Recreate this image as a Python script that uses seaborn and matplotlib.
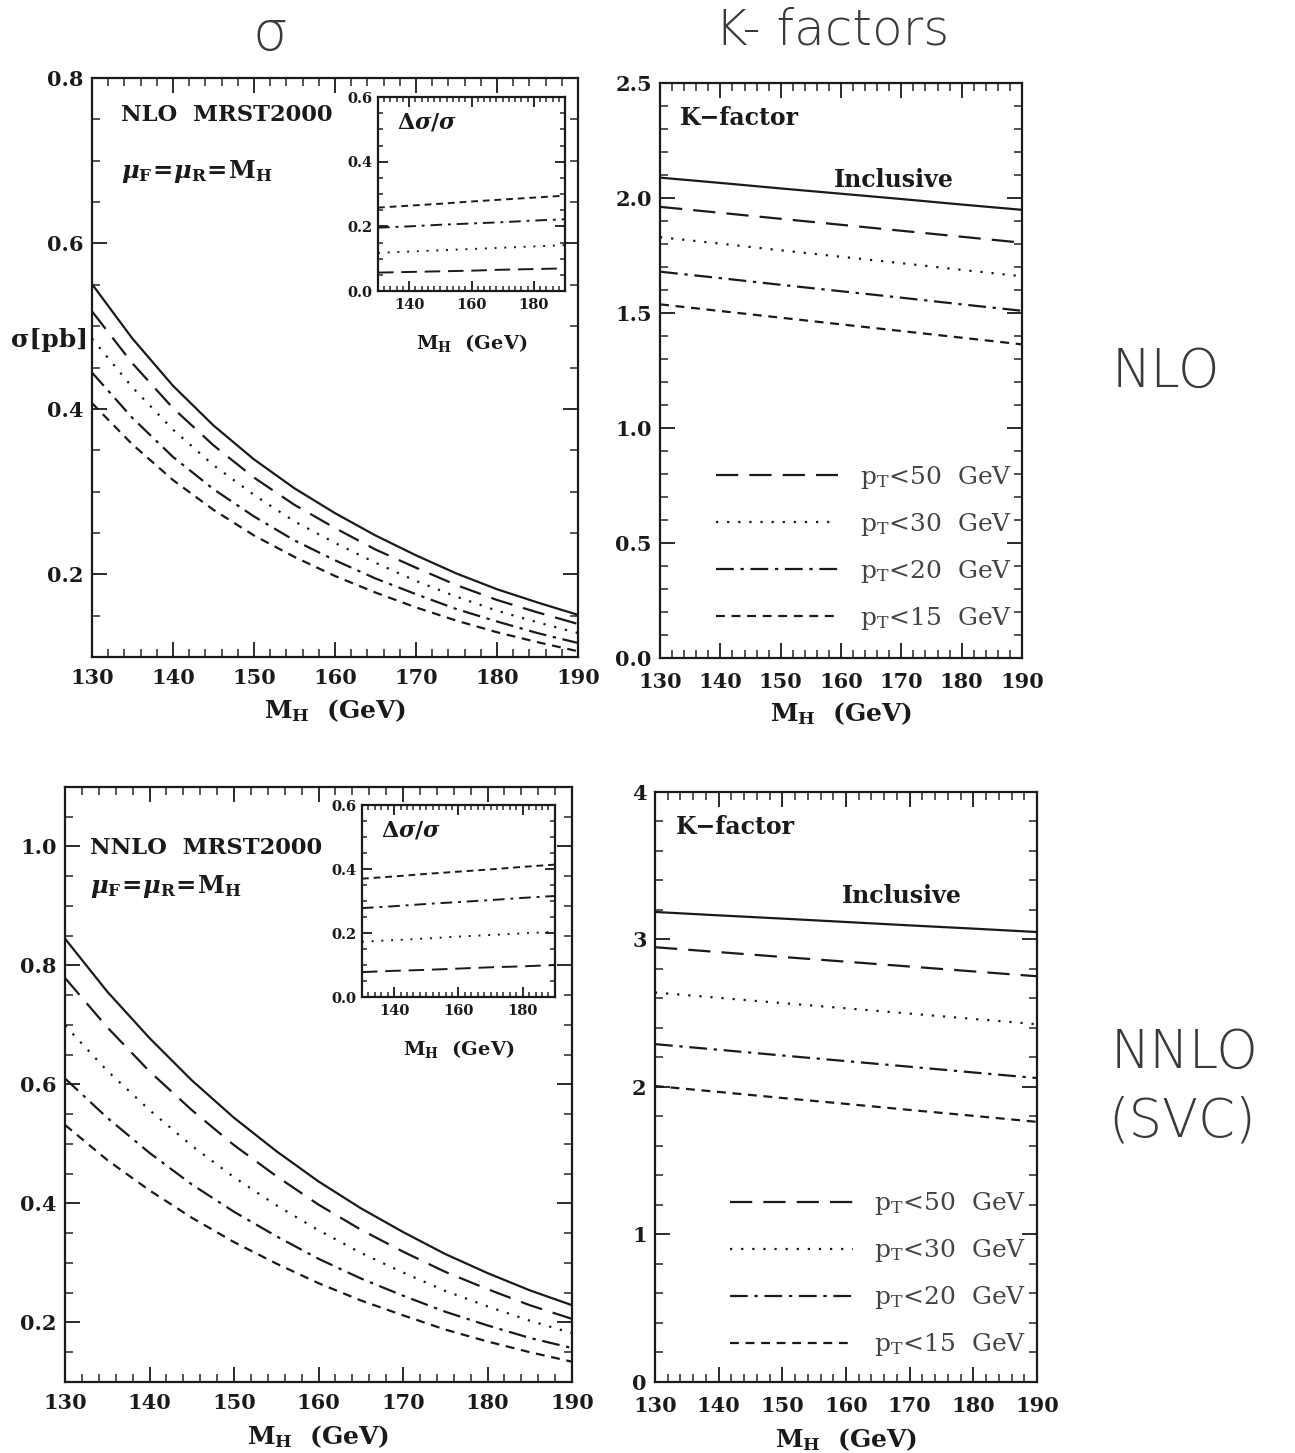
import numpy as np
import matplotlib
matplotlib.use("Agg")
import matplotlib.pyplot as plt
import seaborn as sns
from matplotlib.ticker import MultipleLocator, FixedLocator, FormatStrFormatter

# Higgs mass grid
mh = [130, 135, 140, 145, 150, 155, 160, 165, 170, 175, 180, 185, 190]
mh_k = [130, 140, 150, 160, 170, 180, 190]

# NLO cross sections [pb]
nlo_incl = [0.551, 0.485, 0.428, 0.380, 0.339, 0.304, 0.274, 0.247, 0.223, 0.201, 0.182, 0.166, 0.151]
nlo_pt50 = [0.518, 0.455, 0.401, 0.356, 0.317, 0.284, 0.256, 0.230, 0.208, 0.187, 0.169, 0.154, 0.140]
nlo_pt30 = [0.485, 0.426, 0.375, 0.332, 0.296, 0.264, 0.238, 0.214, 0.192, 0.173, 0.156, 0.142, 0.129]
nlo_pt20 = [0.444, 0.389, 0.342, 0.303, 0.270, 0.241, 0.217, 0.195, 0.176, 0.158, 0.143, 0.129, 0.117]
nlo_pt15 = [0.407, 0.357, 0.314, 0.278, 0.247, 0.221, 0.198, 0.178, 0.160, 0.144, 0.130, 0.118, 0.107]

# NNLO cross sections [pb]
nnlo_incl = [0.845, 0.756, 0.678, 0.607, 0.544, 0.488, 0.437, 0.392, 0.352, 0.315, 0.283, 0.254, 0.229]
nnlo_pt50 = [0.779, 0.696, 0.622, 0.557, 0.498, 0.446, 0.398, 0.356, 0.319, 0.285, 0.256, 0.229, 0.206]
nnlo_pt30 = [0.699, 0.623, 0.557, 0.497, 0.444, 0.397, 0.355, 0.317, 0.284, 0.253, 0.227, 0.203, 0.182]
nnlo_pt20 = [0.610, 0.544, 0.485, 0.432, 0.386, 0.345, 0.307, 0.274, 0.245, 0.218, 0.195, 0.174, 0.157]
nnlo_pt15 = [0.532, 0.473, 0.422, 0.376, 0.335, 0.299, 0.266, 0.237, 0.212, 0.188, 0.168, 0.150, 0.134]

# relative loss delta sigma / sigma (insets)
nlo_d50 = [0.057, 0.059, 0.061, 0.063, 0.066, 0.068, 0.070]
nlo_d30 = [0.118, 0.122, 0.126, 0.130, 0.134, 0.138, 0.142]
nlo_d20 = [0.196, 0.200, 0.205, 0.209, 0.213, 0.218, 0.222]
nlo_d15 = [0.258, 0.264, 0.270, 0.277, 0.283, 0.289, 0.295]
nnlo_d50 = [0.078, 0.082, 0.085, 0.089, 0.093, 0.096, 0.100]
nnlo_d30 = [0.173, 0.178, 0.183, 0.189, 0.194, 0.199, 0.204]
nnlo_d20 = [0.278, 0.284, 0.291, 0.297, 0.303, 0.310, 0.316]
nnlo_d15 = [0.370, 0.377, 0.385, 0.392, 0.399, 0.407, 0.414]

# K-factors
k_nlo_incl = [2.089, 2.066, 2.042, 2.019, 1.996, 1.972, 1.949]
k_nlo_pt50 = [1.962, 1.936, 1.910, 1.884, 1.858, 1.832, 1.806]
k_nlo_pt30 = [1.830, 1.802, 1.773, 1.745, 1.717, 1.688, 1.660]
k_nlo_pt20 = [1.680, 1.652, 1.623, 1.595, 1.567, 1.538, 1.510]
k_nlo_pt15 = [1.538, 1.509, 1.480, 1.451, 1.422, 1.393, 1.364]
k_nnlo_incl = [3.186, 3.163, 3.141, 3.118, 3.095, 3.073, 3.050]
k_nnlo_pt50 = [2.947, 2.914, 2.881, 2.849, 2.816, 2.783, 2.750]
k_nnlo_pt30 = [2.640, 2.604, 2.568, 2.533, 2.497, 2.461, 2.425]
k_nnlo_pt20 = [2.290, 2.252, 2.213, 2.175, 2.137, 2.098, 2.060]
k_nnlo_pt15 = [2.006, 1.966, 1.925, 1.885, 1.844, 1.804, 1.763]

cut_labels = [r"$\mathregular{p_T}$<50  GeV", r"$\mathregular{p_T}$<30  GeV",
              r"$\mathregular{p_T}$<20  GeV", r"$\mathregular{p_T}$<15  GeV"]

INK = "#1a1a1a"
STYLES = ["-", (0, (10, 5)), (0, (1, 4)), (0, (8, 3, 1.5, 3)), (0, (4, 3))]
INSET_STYLES = [(0, (8, 4)), (0, (1, 4)), (0, (6, 3, 1.5, 3)), (0, (3.5, 2.5))]

sns.set_style("ticks")
plt.rcParams["font.family"] = ["DejaVu Serif"]
plt.rcParams["mathtext.fontset"] = "custom"
plt.rcParams["mathtext.rm"] = "DejaVu Serif:bold"
plt.rcParams["mathtext.it"] = "DejaVu Serif:italic:bold"
plt.rcParams["mathtext.bf"] = "DejaVu Serif:bold"


def style_axes(ax, ymaj, ymin, xmaj, xmin, fs, fmt, big=True, xpad=6):
    ax.yaxis.set_major_locator(MultipleLocator(ymaj))
    ax.yaxis.set_minor_locator(MultipleLocator(ymin))
    if xmaj is None:
        ax.xaxis.set_major_locator(FixedLocator([140, 160, 180]))
    else:
        ax.xaxis.set_major_locator(MultipleLocator(xmaj))
    ax.xaxis.set_minor_locator(MultipleLocator(xmin))
    ax.yaxis.set_major_formatter(FormatStrFormatter(fmt))
    L = 11 if big else 7
    ax.tick_params(which="major", direction="in", top=True, right=True, length=L, width=1.3,
                   labelsize=fs, colors=INK, pad=6 if big else 4)
    ax.tick_params(axis="x", which="major", pad=xpad if big else 5)
    ax.tick_params(which="minor", direction="in", top=True, right=True, length=L / 2, width=1.1)
    for lab in ax.get_xticklabels() + ax.get_yticklabels():
        lab.set_fontweight("bold")
    for s in ax.spines.values():
        s.set_linewidth(1.6)
        s.set_color(INK)
    ax.set_xlabel("")
    ax.set_ylabel("")


def draw_lines(ax, x, series, styles, lw):
    for y, ls in zip(series, styles):
        sns.lineplot(x=np.array(x), y=np.array(y), ax=ax, color=INK, linestyle=ls, linewidth=lw)


fig = plt.figure(figsize=(12.95, 14.53), dpi=100)

# ---------------- sigma panels ----------------
def sigma_panel(rect, inset_rect, series, dseries, ylim, title, show_ylabel):
    ax = fig.add_axes(rect)
    draw_lines(ax, mh, series, STYLES, 1.6)
    ax.set_xlim(130, 190)
    ax.set_ylim(*ylim)
    style_axes(ax, 0.2, 0.05, 10, 2, 15, "%.1f", xpad=8)
    ax.text(0.06 if show_ylabel else 0.05, 0.936 if show_ylabel else 0.897, title,
            transform=ax.transAxes, fontsize=16.3, fontweight="bold", va="center", color=INK)
    ax.text(0.06 if show_ylabel else 0.05, 0.838 if show_ylabel else 0.832,
            r"$\mu_{\mathregular{F}}\!=\!\mu_{\mathregular{R}}\!=\!\mathregular{M_H}$",
            transform=ax.transAxes, fontsize=17.5, fontweight="bold", va="center", color=INK)
    ax.text(0.5, -0.092, r"$\mathregular{M_H}$  (GeV)", transform=ax.transAxes,
            fontsize=18, fontweight="bold", ha="center", va="center", color=INK)
    if show_ylabel:
        ax.text(-0.087, 0.547, "σ[pb]", transform=ax.transAxes, fontsize=18,
                fontweight="bold", ha="center", va="center", color=INK)

    ins = fig.add_axes(inset_rect)
    draw_lines(ins, mh_k, dseries, INSET_STYLES, 1.4)
    ins.set_xlim(130, 190)
    ins.set_ylim(0, 0.6)
    style_axes(ins, 0.2, 0.05, None, 2, 10.5, "%.1f", big=False)
    ins.text(0.1, 0.87, r"$\Delta\sigma/\sigma$", transform=ins.transAxes, fontsize=16,
             va="center", color=INK)
    ins.text(0.5, -0.27, r"$\mathregular{M_H}$  (GeV)", transform=ins.transAxes,
             fontsize=14, fontweight="bold", ha="center", va="center", color=INK)


sigma_panel([0.0710, 0.5478, 0.3753, 0.3985], [0.2919, 0.7997, 0.1444, 0.1335],
            [nlo_incl, nlo_pt50, nlo_pt30, nlo_pt20, nlo_pt15],
            [nlo_d50, nlo_d30, nlo_d20, nlo_d15], (0.1, 0.8), "NLO  MRST2000", True)
sigma_panel([0.0502, 0.0489, 0.3915, 0.4095], [0.2795, 0.3138, 0.1490, 0.1321],
            [nnlo_incl, nnlo_pt50, nnlo_pt30, nnlo_pt20, nnlo_pt15],
            [nnlo_d50, nnlo_d30, nnlo_d20, nnlo_d15], (0.1, 1.1), "NNLO  MRST2000", False)


# ---------------- K-factor panels ----------------
def k_panel(rect, series, ylim, ymaj, ymin, fmt, incl_y, leg_y):
    ax = fig.add_axes(rect)
    draw_lines(ax, mh_k, series, STYLES, 1.6)
    ax.set_xlim(130, 190)
    ax.set_ylim(*ylim)
    style_axes(ax, ymaj, ymin, 10, 2, 15, fmt, xpad=10)
    ax.text(0.055, 0.94, "K−factor", transform=ax.transAxes, fontsize=17,
            fontweight="bold", va="center", color=INK)
    ax.text(0.645, incl_y, "Inclusive", transform=ax.transAxes, fontsize=17,
            fontweight="bold", ha="center", va="center", color=INK)
    ax.text(0.5, -0.097, r"$\mathregular{M_H}$  (GeV)", transform=ax.transAxes,
            fontsize=18, fontweight="bold", ha="center", va="center", color=INK)
    leg = ax.legend(handles=ax.lines[1:5], labels=cut_labels, loc="lower right",
                    bbox_to_anchor=(0.972, leg_y), frameon=False, fontsize=18,
                    handlelength=4.9, handletextpad=0.85, labelspacing=0.8,
                    borderpad=0, borderaxespad=0)
    for t in leg.get_texts():
        t.set_color("#444444")


k_panel([0.5097, 0.5471, 0.2795, 0.3957],
        [k_nlo_incl, k_nlo_pt50, k_nlo_pt30, k_nlo_pt20, k_nlo_pt15],
        (0, 2.5), 0.5, 0.1, "%.1f", 0.831, 0.045)
k_panel([0.5058, 0.0489, 0.2950, 0.4061],
        [k_nnlo_incl, k_nnlo_pt50, k_nnlo_pt30, k_nnlo_pt20, k_nnlo_pt15],
        (0, 4), 1, 0.2, "%d", 0.824, 0.04)

# handwritten annotations
hand = dict(family=["DejaVu Sans"], fontweight="light", color="#3a3a3a", ha="center", va="center")
fig.text(0.2085, 0.976, "σ", fontsize=40, **hand)
fig.text(0.6425, 0.979, "K- factors", fontsize=36, **hand)
fig.text(0.900, 0.744, "NLO", fontsize=38, **hand)
fig.text(0.915, 0.275, "NNLO", fontsize=38, **hand)
fig.text(0.913, 0.228, "(SVC)", fontsize=38, **hand)

fig.savefig("out.png", dpi=100, facecolor="white")
